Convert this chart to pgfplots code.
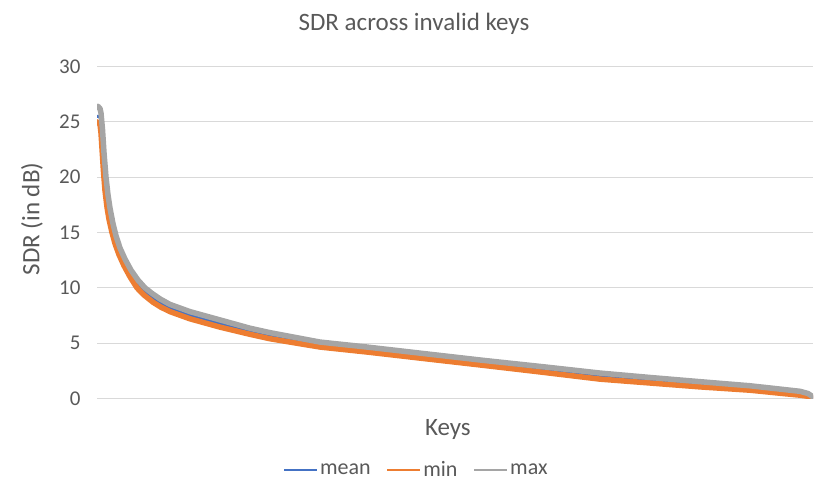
\documentclass[border=0pt]{standalone}
\usepackage{pgfplots}
\pgfplotsset{compat=1.18}
\usepackage{fontspec}
\setmainfont{Carlito}
\definecolor{cmean}{HTML}{4472C4}
\definecolor{cmin}{HTML}{ED7D31}
\definecolor{cmax}{HTML}{A5A5A5}
\definecolor{ctext}{HTML}{595959}
\definecolor{cgrid}{HTML}{D9D9D9}
\begin{document}
\begin{tikzpicture}[x=1pt,y=1pt]
\useasboundingbox (0,0) rectangle (830,498);
\begin{axis}[
  at={(97pt,99.5pt)}, anchor=south west,
  scale only axis, width=716pt, height=332pt,
  xmin=0, xmax=716, ymin=0, ymax=30,
  xtick=\empty, ytick={0,5,10,15,20,25,30},
  ymajorgrids, major grid style={draw=cgrid, line width=1pt},
  axis line style={draw=none}, major tick length=0pt,
  /pgf/number format/assume math mode=true,
  ticklabel style={font=\fontsize{21}{25}\selectfont, text=ctext},
  yticklabel style={anchor=east, xshift=-13pt},
  title={SDR across invalid keys},
  title style={at={(axis description cs:0.4427,1.0898)}, anchor=base, font=\fontsize{25}{30}\selectfont, text=ctext},
  xlabel={Keys},
  xlabel style={at={(axis description cs:0.490,-0.110)}, anchor=base, font=\fontsize{25}{30}\selectfont, text=ctext},
  ylabel={SDR (in dB)},
  ylabel style={at={(axis description cs:-0.0908,0.5407)}, anchor=center, rotate=0, font=\fontsize{25}{30}\selectfont, text=ctext},
  legend columns=3,
  legend style={at={(axis description cs:0.4455,-0.2154)}, anchor=center, draw=none, fill=none,
    font=\fontsize{22}{26}\selectfont, text=ctext,
    /tikz/every even column/.append style={column sep=14pt},
    nodes={inner sep=1.5pt}},
  legend image code/.code={\draw[#1, line width=2.7pt, line cap=butt] (0pt,0pt) -- (33pt,0pt);},
]
% x = pixel position - 97 (key index scaled), y = SDR in dB
\addplot[cmean, line width=3pt, line join=round, line cap=round] coordinates {
(0,25.5) (2,25.5) (3.5,25.3) (4.5,24.6) (5.5,23.2) (7,21.2) (8.5,19.6) (10.5,18.0)
(13,16.6) (15.5,15.4) (18.5,14.4) (23,13.25) (28,12.3) (34,11.3) (41,10.35) (48,9.7)
(56,9.1) (64,8.6) (73,8.15) (93,7.5) (123,6.8) (153,6.05) (173,5.65) (223,4.85)
(270,4.4) (323,3.85) (386,3.22) (443,2.65) (503,2.02) (553,1.65) (603,1.28)
(653,0.95) (686,0.63) (703,0.47) (711,0.3) (716,0.12)
};
\addlegendentry{mean}
\addplot[cmin, line width=5.5pt, line join=round, line cap=round] coordinates {
(0,25.0) (1,24.9) (3,24.8) (4,24.0) (5,22.6) (6.5,20.5) (8,18.8) (10,17.3) (12,16.2)
(15,15.0) (18,14.0) (22,13.0) (27,12.0) (33,11.0) (40,10.0) (47,9.35) (56,8.7)
(64,8.25) (73,7.85) (93,7.2) (123,6.45) (153,5.8) (173,5.4) (223,4.65) (270,4.2)
(323,3.65) (386,3.0) (443,2.4) (503,1.75) (553,1.4) (603,1.05) (653,0.75)
(686,0.45) (703,0.3) (711,0.2) (716,0.08)
};
\addlegendentry{min}
\addplot[cmax, line width=5.5pt, line join=round, line cap=round] coordinates {
(0,26.3) (1,26.4) (3,26.2) (4,25.8) (5.5,24.3) (7,22.2) (9,20.0) (11,18.4) (13,17.2)
(16,15.8) (19,14.7) (23,13.6) (28,12.6) (34,11.6) (41,10.7) (48,10.0) (55,9.5)
(63,9.0) (73,8.5) (93,7.85) (123,7.1) (153,6.35) (173,5.95) (223,5.1) (270,4.65)
(323,4.1) (386,3.45) (443,2.9) (503,2.3) (553,1.9) (603,1.52) (653,1.15)
(686,0.82) (703,0.65) (711,0.45) (716,0.15)
};
\addlegendentry{max}
\end{axis}
\end{tikzpicture}
\end{document}
